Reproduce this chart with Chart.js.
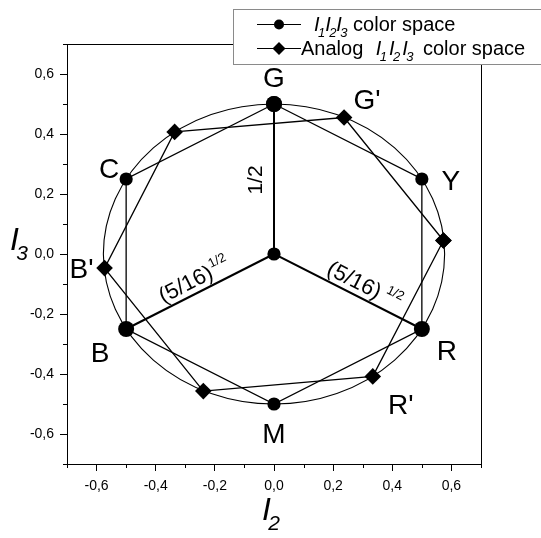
<!DOCTYPE html>
<html>
<head>
<meta charset="utf-8">
<script src="https://cdn.jsdelivr.net/npm/chart.js@4/dist/chart.umd.min.js"></script>
<style>
  html, body { margin: 0; padding: 0; background: #fff; }
  #wrap { width: 541px; height: 538px; }
</style>
</head>
<body>
<div id="wrap"><canvas id="c" width="541" height="538"></canvas></div>
<script>
// Primary / secondary colours of the I1I2I3 space (I2, I3 coordinates)
const primaryNames = ['G', 'Y', 'R', 'M', 'B', 'C'];
const primaryI2 = [0.0, 0.5, 0.5, 0.0, -0.5, -0.5];
const primaryI3 = [0.5, 0.25, -0.25, -0.5, -0.25, 0.25];

// Colours of the analog I1I2I3 space
const analogNames = ['', "G'", '', "B'", '', "R'"];
const analogI2 = [0.573, 0.237, -0.336, -0.573, -0.239, 0.334];
const analogI3 = [0.045, 0.455, 0.407, -0.047, -0.457, -0.408];

// Origin and the three spokes drawn from it
const originI2 = 0.0;
const originI3 = 0.0;
const spokeEnds = ['G', 'R', 'B'];

// Distance labels written along the spokes
const spokeLabels = { G: ['1/2', ''], R: ['(5/16)', '1/2'], B: ['(5/16)', '1/2'] };

// Ring through the colour points (semi-axes in I2 and I3 units)
const ringI2 = 0.577;
const ringI3 = 0.5;

// Axis ticks
const tickValues = [-0.6, -0.4, -0.2, 0.0, 0.2, 0.4, 0.6];
const tickLabels = ['-0,6', '-0,4', '-0,2', '0,0', '0,2', '0,4', '0,6'];

// Legend entries
const seriesLabels = ['color space', 'Analog'];

// ---- styling ----
const FONT = '"Liberation Sans", Arial, Helvetica, sans-serif';
const bigDot = { G: 8, R: 8, B: 8 };
const labelOffsets = {
  G: [0, -27], "G'": [23, -19], Y: [29, 1], C: [-17, -11], "B'": [-23, 0],
  B: [-26, 23], R: [25, 21], "R'": [28, 28], M: [0, 29]
};

const toPts = (names, xs, ys) => names.map((n, i) => ({ x: xs[i], y: ys[i], name: n }));
const primaryPts = toPts(primaryNames, primaryI2, primaryI3);
const analogPts = toPts(analogNames, analogI2, analogI3);
const origin = { x: originI2, y: originI3, name: 'O' };
const byName = Object.fromEntries(primaryPts.map(p => [p.name, p]));

const isMajor = v => tickValues.findIndex(t => Math.abs(t - v) < 1e-6);

function capText(ctx, text, cx, cy, size) {
  ctx.font = `${size}px ${FONT}`;
  ctx.textAlign = 'center';
  ctx.textBaseline = 'alphabetic';
  ctx.fillText(text, cx, cy + size * 0.358);
}

// italic I with subscript digits, returns x after the text
function drawISubs(ctx, x, base, size, digits, spread = 0) {
  for (const d of digits) {
    ctx.font = `italic ${size}px ${FONT}`;
    ctx.fillText('I', x, base);
    x += ctx.measureText('I').width;
    const s = Math.round(size * 0.66);
    ctx.font = `italic ${s}px ${FONT}`;
    ctx.fillText(d, x - size * 0.08, base + size * 0.3);
    x += ctx.measureText(d).width - size * 0.08 + spread;
  }
  return x;
}

const decor = {
  id: 'figureDecor',
  beforeDatasetsDraw(chart) {
    const { ctx, scales: { x, y } } = chart;
    const cx = x.getPixelForValue(originI2), cy = y.getPixelForValue(originI3);
    const rx = Math.abs(x.getPixelForValue(originI2 + ringI2) - cx);
    const ry = Math.abs(y.getPixelForValue(originI3 + ringI3) - cy);
    ctx.save();
    ctx.beginPath();
    ctx.ellipse(cx, cy, rx, ry, 0, 0, Math.PI * 2);
    ctx.lineWidth = 1.1;
    ctx.strokeStyle = '#000';
    ctx.stroke();
    ctx.restore();
  },
  afterDraw(chart) {
    const { ctx, chartArea: a, scales: { x, y } } = chart;
    ctx.save();
    ctx.strokeStyle = '#000';
    ctx.fillStyle = '#000';
    ctx.lineWidth = 1;

    // top and right frame lines
    ctx.beginPath();
    ctx.moveTo(Math.round(a.left), Math.round(a.top) + 0.5);
    ctx.lineTo(Math.round(a.right) + 0.5, Math.round(a.top) + 0.5);
    ctx.lineTo(Math.round(a.right) + 0.5, Math.round(a.bottom));
    ctx.stroke();

    // minor ticks
    ctx.beginPath();
    x.ticks.forEach(t => {
      if (isMajor(t.value) >= 0) return;
      const px = Math.round(x.getPixelForValue(t.value)) + 0.5;
      ctx.moveTo(px, a.bottom); ctx.lineTo(px, a.bottom + 4);
    });
    y.ticks.forEach(t => {
      if (isMajor(t.value) >= 0) return;
      const py = Math.round(y.getPixelForValue(t.value)) + 0.5;
      ctx.moveTo(a.left, py); ctx.lineTo(a.left - 4, py);
    });
    ctx.stroke();

    // point names
    [...primaryPts, ...analogPts].forEach(p => {
      if (!p.name) return;
      const off = labelOffsets[p.name];
      capText(ctx, p.name, x.getPixelForValue(p.x) + off[0], y.getPixelForValue(p.y) + off[1], 28);
    });

    // spoke length labels
    const ox = x.getPixelForValue(originI2), oy = y.getPixelForValue(originI3);
    spokeEnds.forEach(n => {
      const p = byName[n];
      const ex = x.getPixelForValue(p.x), ey = y.getPixelForValue(p.y);
      const [main, sup] = spokeLabels[n];
      ctx.save();
      ctx.textBaseline = 'alphabetic';
      ctx.textAlign = 'left';
      if (n === 'G') {
        ctx.translate(ox - 12, (oy + ey) / 2 + 1);
        ctx.rotate(-Math.PI / 2);
        ctx.font = `21px ${FONT}`;
        const w = ctx.measureText(main).width;
        ctx.fillText(main, -w / 2, 0);
      } else {
        let ang = Math.atan2(ey - oy, ex - ox);
        if (ex < ox) ang = Math.atan2(oy - ey, ox - ex);
        const mx = (ox + ex) / 2, my = (oy + ey) / 2;
        const along = n === 'R' ? 12 : 0;
        const gap = n === 'R' ? 5 : 1;
        ctx.translate(mx + Math.cos(ang) * along, my + Math.sin(ang) * along);
        ctx.rotate(ang);
        ctx.font = `22px ${FONT}`;
        const w1 = ctx.measureText(main).width;
        ctx.font = `13px ${FONT}`;
        const w2 = ctx.measureText(sup).width;
        const start = -(w1 + gap + w2) / 2;
        ctx.font = `22px ${FONT}`;
        ctx.fillText(main, start, -6);
        ctx.font = `13px ${FONT}`;
        ctx.fillText(sup, start + w1 + gap, -16);
      }
      ctx.restore();
    });

    // axis titles
    ctx.textAlign = 'left';
    ctx.textBaseline = 'alphabetic';
    drawISubs(ctx, 10, 250, 32, ['3']);
    drawISubs(ctx, 262, 520, 32, ['2']);

    // legend
    const lx = 233.5, ly = 9.5;
    ctx.fillStyle = '#fff';
    ctx.fillRect(lx, ly, 320, 55);
    ctx.strokeStyle = '#8a8a8a';
    ctx.strokeRect(lx, ly, 320, 55);
    ctx.strokeStyle = '#000';
    ctx.fillStyle = '#000';
    const rows = [24, 48];
    rows.forEach((ry, i) => {
      ctx.beginPath();
      ctx.moveTo(257, ry + 0.5); ctx.lineTo(301, ry + 0.5);
      ctx.lineWidth = 1.2;
      ctx.stroke();
      ctx.beginPath();
      if (i === 0) {
        ctx.arc(279, ry + 0.5, 5, 0, Math.PI * 2);
      } else {
        const r = 6.5;
        ctx.moveTo(279, ry + 0.5 - r); ctx.lineTo(279 + r, ry + 0.5);
        ctx.lineTo(279, ry + 0.5 + r); ctx.lineTo(279 - r, ry + 0.5);
        ctx.closePath();
      }
      ctx.fill();
    });
    const fs = 20;
    let tx = 314;
    tx = drawISubs(ctx, tx, rows[0] + 7, fs, ['1', '2', '3']);
    ctx.font = `${fs}px ${FONT}`;
    ctx.fillText(' ' + seriesLabels[0], tx, rows[0] + 7);
    tx = 301;
    ctx.font = `${fs}px ${FONT}`;
    ctx.fillText(seriesLabels[1] + ' ', tx, rows[1] + 7);
    tx += ctx.measureText(seriesLabels[1] + ' ').width + 7;
    tx = drawISubs(ctx, tx, rows[1] + 7, fs, ['1', '2', '3'], 2);
    ctx.font = `${fs}px ${FONT}`;
    ctx.fillText(' ' + seriesLabels[0], tx + 2, rows[1] + 7);

    ctx.restore();
  }
};

const tickCallback = v => {
  const i = isMajor(v);
  return i >= 0 ? tickLabels[i] : '';
};
const tickColor = c => (c.tick && isMajor(c.tick.value) >= 0 ? '#000' : 'rgba(0,0,0,0)');

new Chart(document.getElementById('c'), {
  type: 'scatter',
  data: {
    datasets: [
      {
        label: 'I1I2I3 color space',
        data: [...primaryPts, primaryPts[0]],
        showLine: true,
        borderColor: '#000',
        borderWidth: 1.3,
        backgroundColor: '#000',
        pointStyle: 'circle',
        pointRadius: c => (c.raw && bigDot[c.raw.name]) || 6.6,
        pointBorderWidth: 0
      },
      {
        label: 'Analog I1I2I3 color space',
        data: [...analogPts, analogPts[0]],
        showLine: true,
        borderColor: '#000',
        borderWidth: 1.3,
        backgroundColor: '#000',
        pointStyle: 'rectRot',
        pointRadius: 8.3,
        pointBorderWidth: 0
      },
      {
        label: 'spoke G-O-R',
        data: [byName[spokeEnds[0]], origin, byName[spokeEnds[1]]],
        showLine: true,
        borderColor: '#000',
        borderWidth: 2,
        backgroundColor: '#000',
        pointRadius: c => (c.raw && c.raw.name === 'O' ? 6.6 : 0),
        pointBorderWidth: 0
      },
      {
        label: 'spoke O-B',
        data: [origin, byName[spokeEnds[2]]],
        showLine: true,
        borderColor: '#000',
        borderWidth: 2,
        backgroundColor: '#000',
        pointRadius: 0
      }
    ]
  },
  options: {
    responsive: false,
    animation: false,
    layout: { padding: { left: 0, right: 60, top: 44, bottom: 0 } },
    plugins: { legend: { display: false }, tooltip: { enabled: false } },
    scales: {
      x: {
        type: 'linear',
        min: -0.7, max: 0.7,
        afterFit: s => { s.height = 74; },
        ticks: {
          stepSize: 0.1, autoSkip: false, maxRotation: 0,
          callback: tickCallback, color: '#000', padding: 7,
          font: { family: FONT, size: 14 }
        },
        grid: { drawOnChartArea: false, drawTicks: true, tickLength: 7, tickColor: tickColor, tickWidth: 1 },
        border: { display: true, color: '#000', width: 1 }
      },
      y: {
        type: 'linear',
        min: -0.7, max: 0.7,
        afterFit: s => { s.width = 67; },
        ticks: {
          stepSize: 0.1, autoSkip: false,
          callback: tickCallback, color: '#000', padding: 6,
          font: { family: FONT, size: 14 }
        },
        grid: { drawOnChartArea: false, drawTicks: true, tickLength: 7, tickColor: tickColor, tickWidth: 1 },
        border: { display: true, color: '#000', width: 1 }
      }
    }
  },
  plugins: [decor]
});
</script>
</body>
</html>
